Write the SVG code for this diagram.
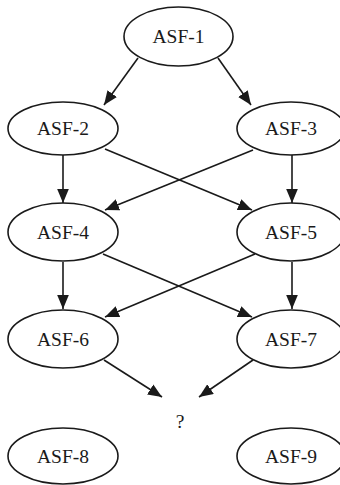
<svg xmlns="http://www.w3.org/2000/svg" width="340" height="485" viewBox="0 0 340 485">
<defs>
<style>
.n ellipse{fill:#fff;stroke:#1a1a1a;stroke-width:1.6}
.n text,.q{font-family:"Liberation Serif","Times New Roman",serif;font-size:19.5px;fill:#1a1a1a;text-anchor:middle;dominant-baseline:central}
#edges line{stroke:#1a1a1a;stroke-width:1.6;marker-end:url(#ah)}
</style>
<marker id="ah" markerUnits="userSpaceOnUse" markerWidth="14" markerHeight="12" refX="12" refY="5" orient="auto" viewBox="0 0 12 10">
<path d="M0,0 L12,5 L0,10 Z" fill="#1a1a1a"/>
</marker>
</defs>
<rect width="340" height="485" fill="#fff"/>
<g id="edges">
<line x1="138" y1="58" x2="104" y2="105"/>
<line x1="218" y1="58" x2="251" y2="105"/>
<line x1="63" y1="155" x2="63" y2="203"/>
<line x1="292" y1="155" x2="292" y2="203"/>
<line x1="105" y1="149" x2="252" y2="210"/>
<line x1="253" y1="150" x2="105" y2="210"/>
<line x1="63" y1="262" x2="63" y2="309"/>
<line x1="292" y1="262" x2="292" y2="309"/>
<line x1="103" y1="254" x2="252" y2="317"/>
<line x1="255" y1="254" x2="105" y2="317"/>
<line x1="104" y1="360" x2="162" y2="397"/>
<line x1="253" y1="360" x2="199" y2="397"/>
</g>
<g id="asf1" class="n"><ellipse cx="178.5" cy="36.5" rx="54.5" ry="29.5"/><text x="178.5" y="36.5">ASF-1</text></g>
<g id="asf2" class="n"><ellipse cx="63" cy="128.5" rx="55" ry="26.5"/><text x="63" y="128.5">ASF-2</text></g>
<g id="asf3" class="n"><ellipse cx="291" cy="128.5" rx="54" ry="26.5"/><text x="291" y="128.5">ASF-3</text></g>
<g id="asf4" class="n"><ellipse cx="63" cy="232" rx="55" ry="29"/><text x="63" y="232">ASF-4</text></g>
<g id="asf5" class="n"><ellipse cx="291" cy="232" rx="54" ry="29"/><text x="291" y="232">ASF-5</text></g>
<g id="asf6" class="n"><ellipse cx="63" cy="339" rx="55" ry="29"/><text x="63" y="339">ASF-6</text></g>
<g id="asf7" class="n"><ellipse cx="291" cy="339" rx="54" ry="29"/><text x="291" y="339">ASF-7</text></g>
<g id="asf8" class="n"><ellipse cx="63" cy="456" rx="55" ry="28"/><text x="63" y="456">ASF-8</text></g>
<g id="asf9" class="n"><ellipse cx="291" cy="456" rx="54" ry="28"/><text x="291" y="456">ASF-9</text></g>
<text class="q" x="180" y="421">?</text>
</svg>
